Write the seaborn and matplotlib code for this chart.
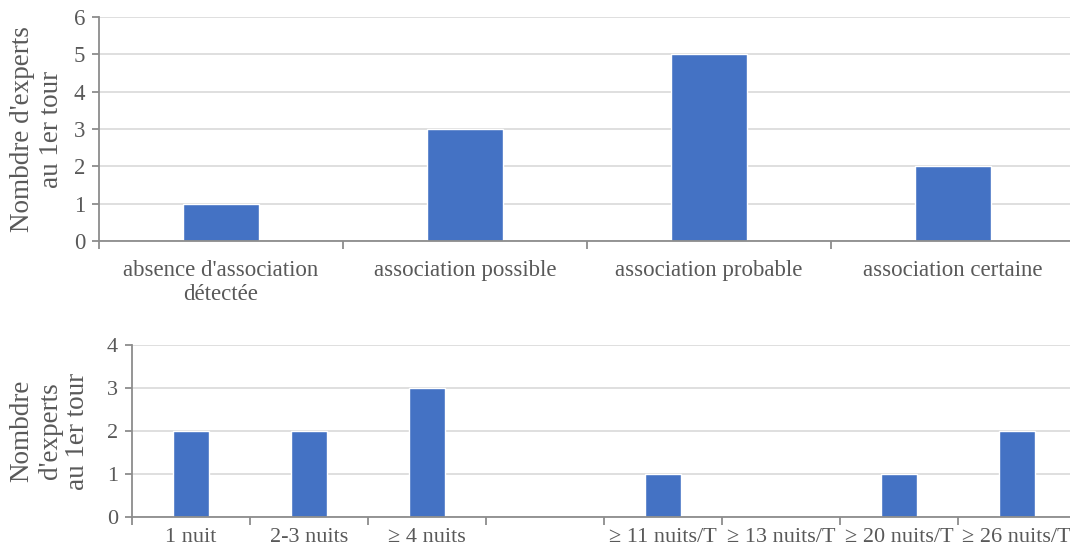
import pandas as pd
import seaborn as sns
import matplotlib.pyplot as plt
from matplotlib.ticker import FixedLocator

# data
assoc_labels = ["absence d'association\ndétectée", "association possible",
                "association probable", "association certaine"]
assoc_counts = [1, 3, 5, 2]

nuits_labels = ["1 nuit", "2-3 nuits", "\u2265 4 nuits", "",
                "\u2265 11 nuits/T", "\u2265 13 nuits/T", "\u2265 20 nuits/T", "\u2265 26 nuits/T"]
nuits_counts = [2, 2, 3, 0, 1, 0, 1, 2]

sns.set_style("white")
plt.rcParams["font.family"] = ["Liberation Serif", "DejaVu Serif"]

bar_color = "#4472C4"
text_color = "#595959"
axis_color = "#8c8c8c"
grid_color = "#d9d9d9"

fig = plt.figure(figsize=(10.7, 5.55), dpi=100)
ax1 = fig.add_axes([0.0925, 0.566, 0.912, 0.403])
ax2 = fig.add_axes([0.1234, 0.0685, 0.882, 0.31])


def style_axis(ax, labels, ymax, tick_fs, label_fs, ylabel, labelpad, lsp, xpad):
    n = len(labels)
    ax.set_xlim(-0.5, n - 0.5)
    ax.set_ylim(0, ymax)
    ax.set_yticks(range(ymax + 1))
    ax.yaxis.grid(True, color=grid_color, linewidth=1.2)
    ax.set_axisbelow(True)
    for s in ["top", "right"]:
        ax.spines[s].set_visible(False)
    ax.spines["left"].set_color(axis_color)
    ax.spines["bottom"].set_color(axis_color)
    ax.spines["left"].set_linewidth(1.3)
    ax.spines["bottom"].set_linewidth(1.3)
    ax.set_xticks(range(n))
    ax.set_xticklabels(labels, fontsize=tick_fs, color=text_color, linespacing=1.15)
    ax.tick_params(axis="x", which="major", length=0, pad=xpad, bottom=True)
    ax.xaxis.set_minor_locator(FixedLocator([i - 0.5 for i in range(n + 1)]))
    ax.tick_params(axis="x", which="minor", length=6, width=1.3, color=axis_color,
                   direction="out", bottom=True)
    ax.tick_params(axis="y", length=5, width=1.3, color=axis_color, labelsize=tick_fs,
                   labelcolor=text_color, pad=5, left=True)
    ax.set_xlabel("")
    ax.set_ylabel(ylabel, fontsize=label_fs, color=text_color, labelpad=labelpad,
                  linespacing=lsp)


df1 = pd.DataFrame({"cat": assoc_labels, "n": assoc_counts})
sns.barplot(data=df1, x="cat", y="n", order=assoc_labels, color=bar_color,
            width=0.31, saturation=1, ax=ax1)
style_axis(ax1, assoc_labels, 6, 16.5, 19.5, "Nombdre d'experts\nau 1er tour", 7, 1.2, 14)

df2 = pd.DataFrame({"cat": nuits_labels, "n": nuits_counts})
sns.barplot(data=df2, x="cat", y="n", order=nuits_labels, color=bar_color,
            width=0.31, saturation=1, ax=ax2)
style_axis(ax2, nuits_labels, 4, 16, 19.5, "Nombdre\nd'experts\nau 1er tour", 12, 1.15, 8)

fig.savefig("out.png", dpi=100)
